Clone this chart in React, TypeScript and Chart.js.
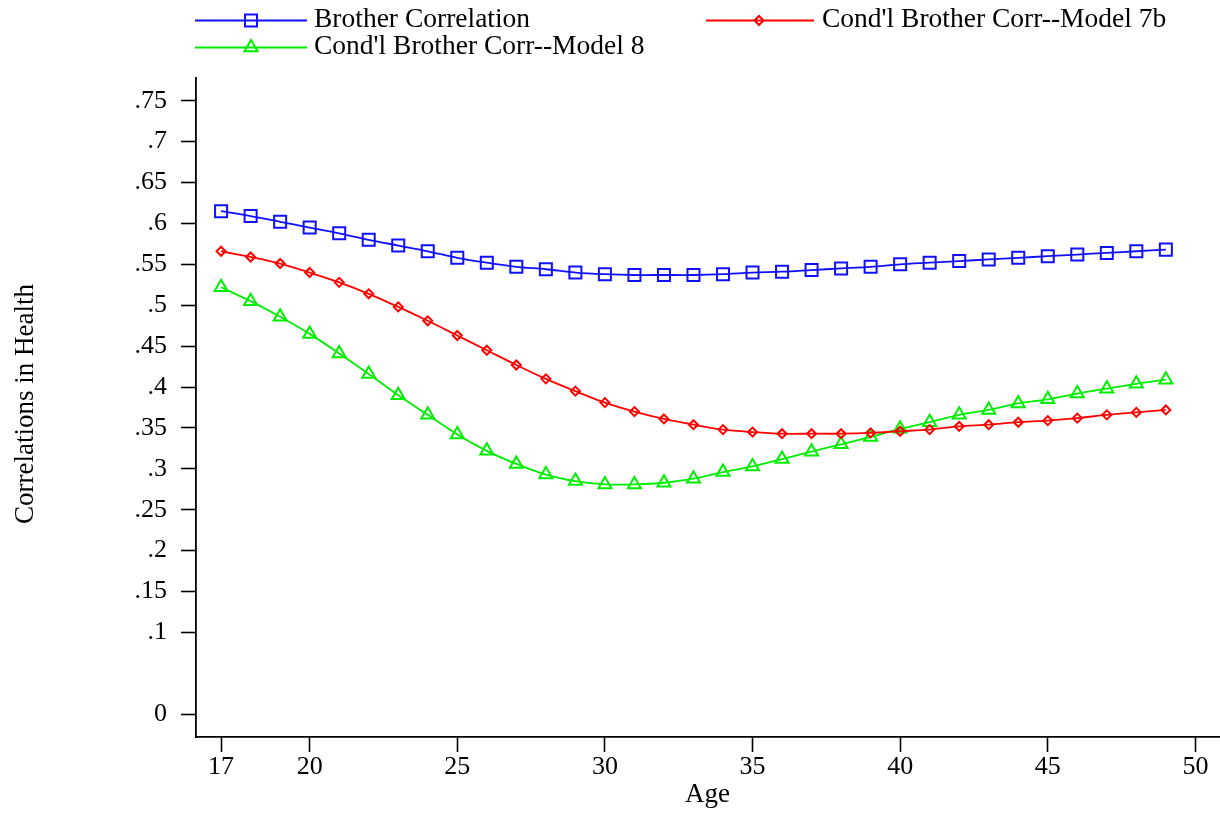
import React, { useEffect, useRef } from "react";
import { Chart, registerables } from "chart.js";

Chart.register(...registerables);

const ages = [17,18,19,20,21,22,23,24,25,26,27,28,29,30,31,32,33,34,35,36,37,38,39,40,41,42,43,44,45,46,47,48,49];

const brotherCorr = [0.615,0.609,0.602,0.595,0.588,0.580,0.573,0.566,0.558,0.552,0.547,0.544,0.540,0.538,0.537,0.537,0.537,0.538,0.540,0.541,0.543,0.545,0.547,0.550,0.552,0.554,0.556,0.558,0.560,0.562,0.564,0.566,0.568];

const model7b = [0.566,0.559,0.551,0.540,0.528,0.514,0.498,0.481,0.463,0.445,0.427,0.410,0.395,0.381,0.370,0.361,0.354,0.348,0.345,0.343,0.343,0.343,0.344,0.346,0.348,0.352,0.354,0.357,0.359,0.362,0.366,0.369,0.372];

const model8 = [0.522,0.505,0.486,0.465,0.441,0.416,0.390,0.366,0.342,0.322,0.306,0.293,0.285,0.281,0.281,0.283,0.288,0.296,0.303,0.312,0.321,0.330,0.339,0.349,0.357,0.366,0.372,0.380,0.385,0.392,0.398,0.404,0.409];

const xTicks = [17,20,25,30,35,40,45,50];
const yTicks = [0,0.1,0.15,0.2,0.25,0.3,0.35,0.4,0.45,0.5,0.55,0.6,0.65,0.7,0.75];

const seriesNames = ["Brother Correlation", "Cond'l Brother Corr--Model 7b", "Cond'l Brother Corr--Model 8"];
const xTitle = "Age";
const yTitle = "Correlations in Health";

const BLUE = "#1010ff";
const RED = "#ff0000";
const GREEN = "#00ee00";
const FONT = "'Liberation Serif', 'Times New Roman', serif";

function fmtY(v: number) {
  if (v === 0) return "0";
  let s = v.toFixed(2).replace(/0+$/, "");
  if (s.startsWith("0")) s = s.slice(1);
  return s;
}

function drawMarker(ctx: CanvasRenderingContext2D, kind: string, x: number, y: number, color: string) {
  ctx.save();
  ctx.strokeStyle = color;
  ctx.lineWidth = 2;
  ctx.beginPath();
  if (kind === "rect") {
    ctx.rect(x - 6, y - 6, 12, 12);
  } else if (kind === "rectRot") {
    ctx.moveTo(x - 4.5, y);
    ctx.lineTo(x, y - 4.5);
    ctx.lineTo(x + 4.5, y);
    ctx.lineTo(x, y + 4.5);
    ctx.closePath();
  } else {
    const r = 7.5;
    ctx.moveTo(x, y - r);
    ctx.lineTo(x + r * 0.866, y + r * 0.5);
    ctx.lineTo(x - r * 0.866, y + r * 0.5);
    ctx.closePath();
  }
  ctx.stroke();
  ctx.restore();
}

const textPlugin = {
  id: "stataText",
  afterDraw(chart: any) {
    const ctx = chart.ctx as CanvasRenderingContext2D;
    const items = [
      { x0: 195, x1: 307, y: 20.5, mx: 251, tx: 314, color: BLUE, kind: "rect", label: seriesNames[0] },
      { x0: 706, x1: 814, y: 20.5, mx: 759, tx: 822, color: RED, kind: "rectRot", label: seriesNames[1] },
      { x0: 195, x1: 307, y: 47.5, mx: 251, tx: 314, color: GREEN, kind: "triangle", label: seriesNames[2] },
    ];
    ctx.save();
    for (const it of items) {
      ctx.strokeStyle = it.color;
      ctx.lineWidth = 1.8;
      ctx.beginPath();
      ctx.moveTo(it.x0, it.y);
      ctx.lineTo(it.x1, it.y);
      ctx.stroke();
      drawMarker(ctx, it.kind, it.mx, it.y, it.color);
      ctx.fillStyle = "#000";
      ctx.font = `27.5px ${FONT}`;
      ctx.textBaseline = "middle";
      ctx.textAlign = "left";
      ctx.fillText(it.label, it.tx, it.y - 1);
    }
    // axis titles
    const area = chart.chartArea;
    ctx.fillStyle = "#000";
    ctx.font = `27px ${FONT}`;
    ctx.textAlign = "center";
    ctx.textBaseline = "alphabetic";
    ctx.fillText(xTitle, (area.left + area.right) / 2, 802);
    ctx.save();
    ctx.translate(33, 404);
    ctx.rotate(-Math.PI / 2);
    ctx.fillText(yTitle, 0, 0);
    ctx.restore();
    ctx.restore();
  },
};

export default function App() {
  const canvasRef = useRef<HTMLCanvasElement | null>(null);

  useEffect(() => {
    document.body.style.margin = "0";
    const canvas = canvasRef.current!;
    const mk = (label: string, vals: number[], color: string, style: string, radius: number) => ({
      label,
      data: ages.map((a, i) => ({ x: a, y: vals[i] })),
      borderColor: color,
      backgroundColor: "transparent",
      borderWidth: 1.8,
      pointStyle: style,
      pointRadius: radius,
      pointBorderWidth: 2,
      pointBorderColor: color,
      pointBackgroundColor: "transparent",
      tension: 0.3,
    });
    const chart = new Chart(canvas, {
      type: "line",
      data: {
        datasets: [
          mk(seriesNames[0], brotherCorr, BLUE, "rect", 8.5),
          mk(seriesNames[1], model7b, RED, "rectRot", 4.5),
          mk(seriesNames[2], model8, GREEN, "triangle", 7.5),
        ],
      },
      options: {
        responsive: false,
        animation: false,
        events: [],
        layout: { autoPadding: false, padding: { top: 78, right: 1, left: 0, bottom: 0 } },
        plugins: {
          legend: { display: false },
          tooltip: { enabled: false },
        },
        scales: {
          x: {
            type: "linear",
            min: 16.15,
            max: 50.8,
            afterBuildTicks: (scale: any) => {
              scale.ticks = xTicks.map((v) => ({ value: v }));
            },
            afterFit: (scale: any) => {
              scale.height = 78;
              scale.paddingLeft = 0;
              scale.paddingRight = 0;
            },
            grid: {
              display: true,
              drawOnChartArea: false,
              drawTicks: true,
              tickLength: 15,
              tickColor: "#000",
              tickWidth: 1.6,
            },
            border: { display: true, color: "#000", width: 1.8 },
            ticks: {
              color: "#000",
              padding: 0,
              maxRotation: 0,
              autoSkip: false,
              font: { family: FONT, size: 26 },
              callback: (v: any) => String(v),
            },
          },
          y: {
            type: "linear",
            min: -0.0278,
            max: 0.7778,
            afterBuildTicks: (scale: any) => {
              scale.ticks = yTicks.map((v) => ({ value: v }));
            },
            afterFit: (scale: any) => {
              scale.width = 196;
              scale.paddingTop = 0;
              scale.paddingBottom = 0;
            },
            grid: {
              display: true,
              drawOnChartArea: false,
              drawTicks: true,
              tickLength: 15,
              tickColor: "#000",
              tickWidth: 1.6,
            },
            border: { display: true, color: "#000", width: 1.8 },
            ticks: {
              color: "#000",
              padding: 14,
              autoSkip: false,
              font: { family: FONT, size: 26 },
              callback: (v: any) => fmtY(Number(v)),
            },
          },
        },
      },
      plugins: [textPlugin],
    } as any);
    return () => chart.destroy();
  }, []);

  return (
    <div style={{ width: 1220, height: 815, background: "#fff" }}>
      <canvas ref={canvasRef} width={1220} height={815} style={{ display: "block" }} />
    </div>
  );
}
